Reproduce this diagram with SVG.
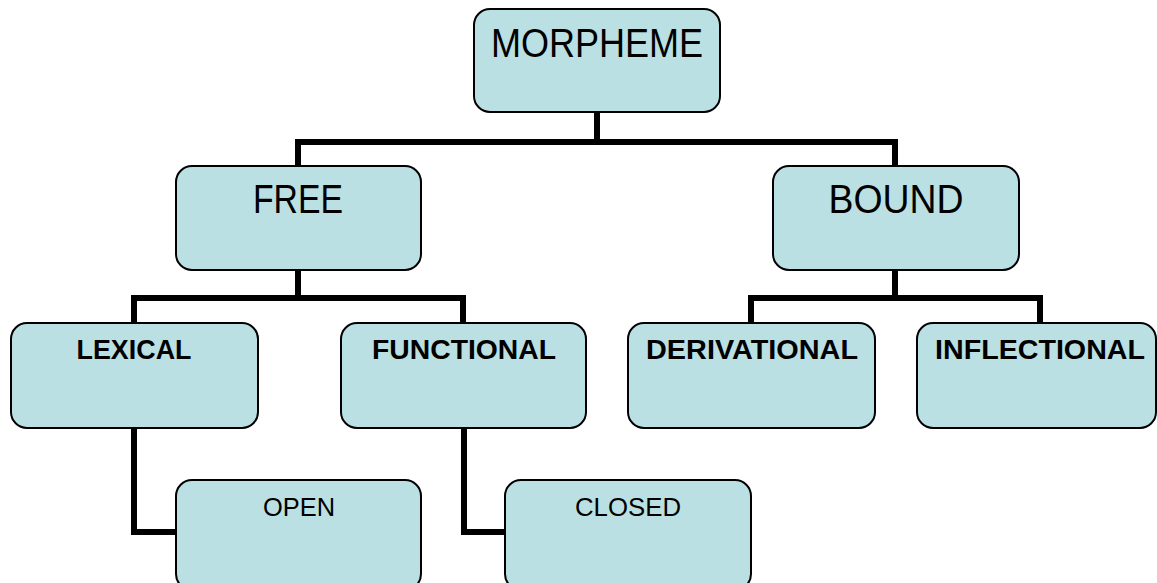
<svg xmlns="http://www.w3.org/2000/svg" width="1157" height="583" viewBox="0 0 1157 583">
<style>
.box{fill:#bbe0e3;stroke:#000;stroke-width:2}
.big{font-family:"Liberation Sans","DejaVu Sans",sans-serif;font-size:40px;fill:#000;text-anchor:middle}
.bold{font-family:"Liberation Sans","DejaVu Sans",sans-serif;font-size:27px;font-weight:bold;fill:#000;text-anchor:middle}
.small{font-family:"Liberation Sans","DejaVu Sans",sans-serif;font-size:26px;fill:#000;text-anchor:middle}
.conn{fill:none;stroke:#000;stroke-width:6;stroke-linecap:square;stroke-linejoin:miter}
</style>
<rect width="1157" height="583" fill="#fff"/>
<g id="connectors">
<path class="conn" d="M597,113 V142 M298,142 H895 M298,142 V165 M895,142 V165"/>
<path class="conn" d="M298,271 V298 M134,298 H463 M134,298 V322 M463,298 V322"/>
<path class="conn" d="M895,271 V298 M751,298 H1040 M751,298 V322 M1040,298 V322"/>
<path class="conn" d="M134,429 V532 H175"/>
<path class="conn" d="M464,429 V532 H504"/>
</g>
<g id="morpheme"><rect class="box" x="474" y="9" width="246" height="103" rx="16"/><text class="big" x="597" y="57" textLength="212" lengthAdjust="spacingAndGlyphs">MORPHEME</text></g>
<g id="free"><rect class="box" x="176" y="166" width="245" height="104" rx="16"/><text class="big" x="298" y="213" textLength="90" lengthAdjust="spacingAndGlyphs">FREE</text></g>
<g id="bound"><rect class="box" x="773" y="166" width="246" height="104" rx="16"/><text class="big" x="896" y="213" textLength="135" lengthAdjust="spacingAndGlyphs">BOUND</text></g>
<g id="lexical"><rect class="box" x="11" y="323" width="247" height="105" rx="16"/><text class="bold" x="134" y="359" textLength="115" lengthAdjust="spacingAndGlyphs">LEXICAL</text></g>
<g id="functional"><rect class="box" x="341" y="323" width="245" height="105" rx="16"/><text class="bold" x="464" y="359" textLength="184" lengthAdjust="spacingAndGlyphs">FUNCTIONAL</text></g>
<g id="derivational"><rect class="box" x="628" y="323" width="247" height="105" rx="16"/><text class="bold" x="752" y="359" textLength="212" lengthAdjust="spacingAndGlyphs">DERIVATIONAL</text></g>
<g id="inflectional"><rect class="box" x="917" y="323" width="239" height="105" rx="16"/><text class="bold" x="1040" y="359" textLength="210" lengthAdjust="spacingAndGlyphs">INFLECTIONAL</text></g>
<g id="open"><rect class="box" x="176" y="480" width="245" height="110" rx="16"/><text class="small" x="299" y="516" textLength="72" lengthAdjust="spacingAndGlyphs">OPEN</text></g>
<g id="closed"><rect class="box" x="505" y="480" width="246" height="110" rx="16"/><text class="small" x="628" y="516" textLength="106" lengthAdjust="spacingAndGlyphs">CLOSED</text></g>
</svg>
